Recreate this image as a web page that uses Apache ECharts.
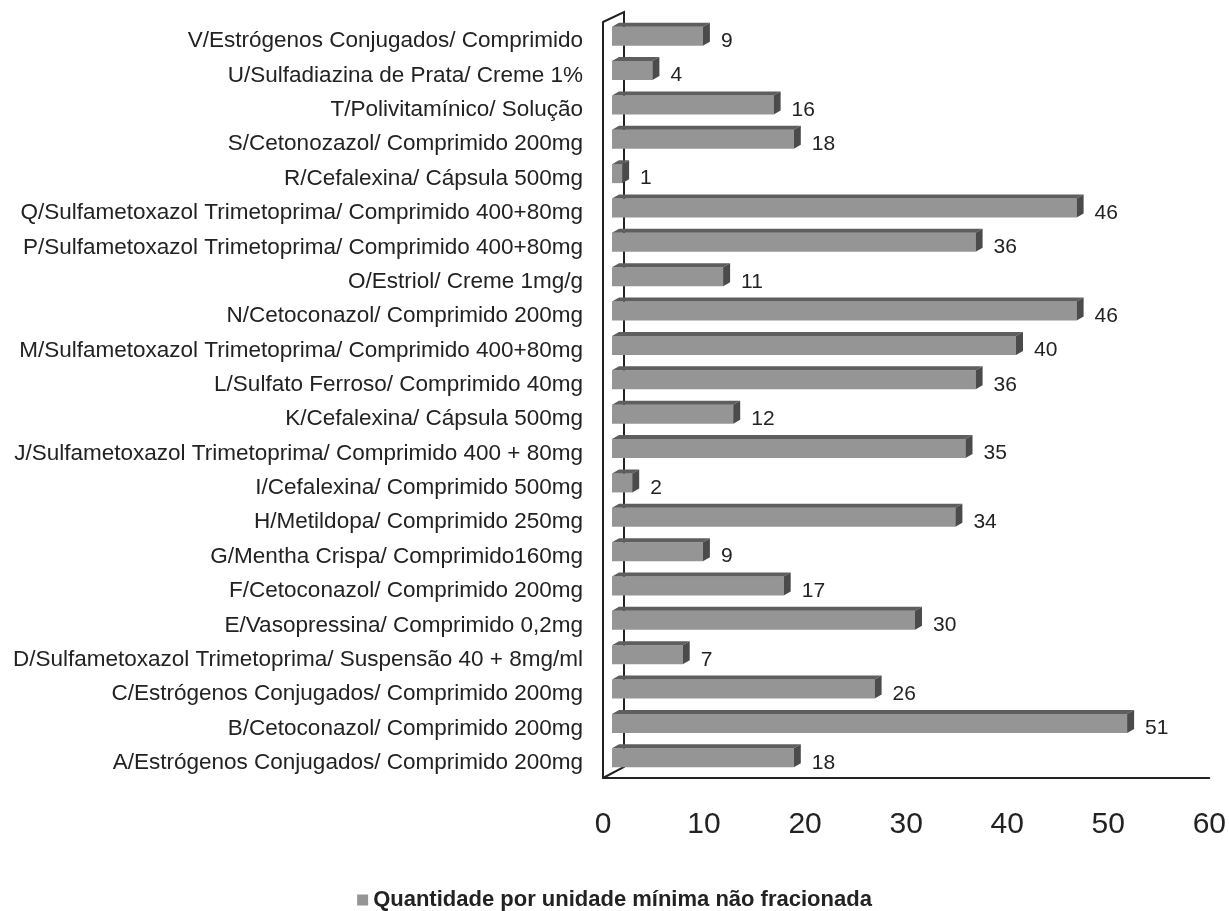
<!DOCTYPE html>
<html>
<head>
<meta charset="utf-8">
<script src="https://cdn.jsdelivr.net/npm/echarts@6/dist/echarts.min.js"></script>
<style>
  html, body { margin: 0; padding: 0; background: #fff; }
  #chart { width: 1229px; height: 911px; }
</style>
</head>
<body>
<div id="chart"></div>
<script>
// categorias (de baixo para cima)
const categories = [
  'A/Estrógenos Conjugados/ Comprimido 200mg',
  'B/Cetoconazol/ Comprimido 200mg',
  'C/Estrógenos Conjugados/ Comprimido 200mg',
  'D/Sulfametoxazol Trimetoprima/ Suspensão 40 + 8mg/ml',
  'E/Vasopressina/ Comprimido 0,2mg',
  'F/Cetoconazol/ Comprimido 200mg',
  'G/Mentha Crispa/ Comprimido160mg',
  'H/Metildopa/ Comprimido 250mg',
  'I/Cefalexina/ Comprimido 500mg',
  'J/Sulfametoxazol Trimetoprima/ Comprimido 400 + 80mg',
  'K/Cefalexina/ Cápsula 500mg',
  'L/Sulfato Ferroso/ Comprimido 40mg',
  'M/Sulfametoxazol Trimetoprima/ Comprimido 400+80mg',
  'N/Cetoconazol/ Comprimido 200mg',
  'O/Estriol/ Creme 1mg/g',
  'P/Sulfametoxazol Trimetoprima/ Comprimido 400+80mg',
  'Q/Sulfametoxazol Trimetoprima/ Comprimido 400+80mg',
  'R/Cefalexina/ Cápsula 500mg',
  'S/Cetonozazol/ Comprimido 200mg',
  'T/Polivitamínico/ Solução',
  'U/Sulfadiazina de Prata/ Creme 1%',
  'V/Estrógenos Conjugados/ Comprimido'
];
const values = [18, 51, 26, 7, 30, 17, 9, 34, 2, 35, 12, 36, 40, 46, 11, 36, 46, 1, 18, 16, 4, 9];
const xTicks = [0, 10, 20, 30, 40, 50, 60];
const seriesName = 'Quantidade por unidade mínima não fracionada';

const FONT = "'Liberation Sans', Arial, sans-serif";
const TXT = '#222';
const DX = 7, DY = 4, HALF = 9.5; // profundidade 3D e meia altura da barra

const chart = echarts.init(document.getElementById('chart'));

function renderBar(params, api) {
  const v = api.value(0);
  const p0 = api.coord([0, api.value(1)]);
  const p1 = api.coord([v, api.value(1)]);
  const x0 = p0[0], x1 = p1[0], c = p0[1];
  const t = c - HALF, b = c + HALF;
  return {
    type: 'group',
    children: [
      { type: 'rect', shape: { x: x0, y: t, width: x1 - x0, height: b - t },
        style: { fill: '#959595' } },
      { type: 'polygon', shape: { points: [[x0, t], [x1, t], [x1 + DX, t - DY], [x0 + DX, t - DY]] },
        style: { fill: '#5e5e5e' } },
      { type: 'polygon', shape: { points: [[x1, t], [x1 + DX, t - DY], [x1 + DX, b - DY], [x1, b]] },
        style: { fill: '#4b4b4b' } },
      { type: 'text', x: x1 + DX + 11, y: c + 5,
        style: { text: String(v), fill: TXT, font: '21px ' + FONT, verticalAlign: 'middle', align: 'left' } }
    ]
  };
}

// parede (decoração 3D)
const wallFront = 603, wallBack = 624;
const wallTop = 22, wallBottom = 778;

chart.setOption({
  animation: false,
  textStyle: { fontFamily: FONT },
  grid: [
    { left: 612, right: 11, top: 19, bottom: 136 },
    { left: 603, right: 14, top: wallTop, bottom: 911 - wallBottom },
    { left: 612, right: 11, top: 24, bottom: 131 } // só para os rótulos das categorias
  ],
  xAxis: [
    { gridIndex: 0, type: 'value', min: 0, max: 60, interval: 10,
      axisLine: { show: false }, axisTick: { show: false },
      axisLabel: { show: false }, splitLine: { show: false } },
    { gridIndex: 1, type: 'value', min: 0, max: 60, interval: 10,
      axisLine: { show: true, lineStyle: { color: '#222', width: 2 } },
      axisTick: { show: false }, splitLine: { show: false },
      axisLabel: { color: TXT, fontSize: 30, margin: 32, fontFamily: FONT,
        formatter: v => xTicks.indexOf(v) >= 0 ? String(v) : '' } },
    { gridIndex: 2, type: 'value', min: 0, max: 60, show: false }
  ],
  yAxis: [
    { gridIndex: 0, type: 'category', data: categories,
      axisLine: { show: false }, axisTick: { show: false }, axisLabel: { show: false } },
    { gridIndex: 1, type: 'value', min: 0, max: 1,
      axisLine: { show: true, lineStyle: { color: '#222', width: 2 } },
      axisTick: { show: false }, axisLabel: { show: false }, splitLine: { show: false } },
    { gridIndex: 2, type: 'category', data: categories,
      axisLine: { show: false }, axisTick: { show: false },
      axisLabel: { color: TXT, fontSize: 22.5, margin: 29, fontFamily: FONT } }
  ],
  legend: {
    top: 884, left: 'center',
    icon: 'rect', itemWidth: 11, itemHeight: 11, itemGap: 6,
    textStyle: { color: TXT, fontSize: 22, fontWeight: 'bold', fontFamily: FONT },
    data: [seriesName]
  },
  graphic: [
    { type: 'polyline', z: 0,
      shape: { points: [[wallFront, wallTop], [wallBack, wallTop - 10], [wallBack, wallBottom - 11], [wallFront, wallBottom]] },
      style: { stroke: '#222', lineWidth: 2, fill: null } }
  ],
  series: [
    { name: seriesName, type: 'custom', xAxisIndex: 0, yAxisIndex: 0, z: 5,
      itemStyle: { color: '#959595' },
      renderItem: renderBar,
      encode: { x: 0, y: 1 },
      data: values.map((v, i) => [v, i]) }
  ]
});
</script>
</body>
</html>
